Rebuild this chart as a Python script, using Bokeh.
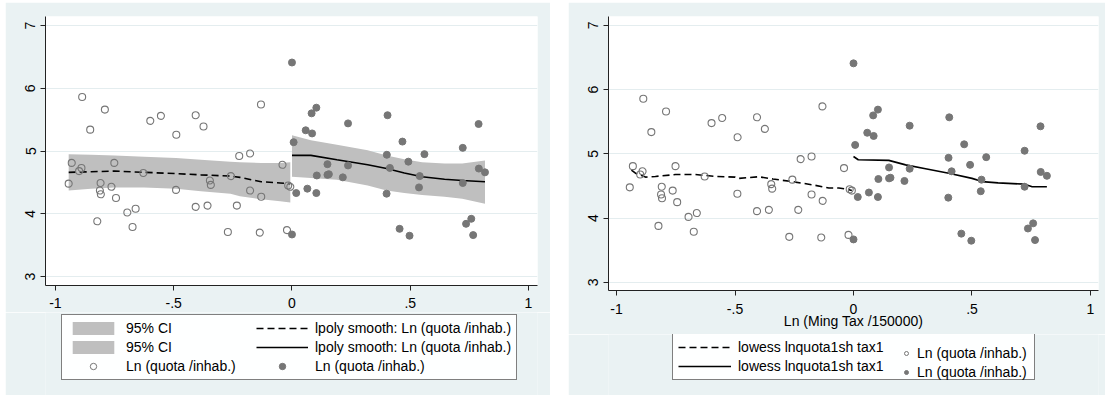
from bokeh.plotting import figure
from bokeh.models import Legend, LegendItem, FixedTicker, CustomJSTickFormatter, Spacer
from bokeh.layouts import row, column
from bokeh.embed import file_html
from bokeh.resources import INLINE

# ---------------- data ----------------
hollow_x = [-0.944, -0.931, -0.887, -0.900, -0.890, -0.853, -0.791, -0.809, -0.812, -0.808,
            -0.823, -0.751, -0.763, -0.744, -0.696, -0.661, -0.674, -0.628, -0.599, -0.554,
            -0.489, -0.490, -0.407, -0.374, -0.407, -0.357, -0.347, -0.343, -0.271, -0.258,
            -0.233, -0.223, -0.177, -0.177, -0.131, -0.130, -0.136, -0.040, -0.016, -0.007,
            -0.021]
hollow_y = [4.48, 4.81, 5.86, 4.68, 4.73, 5.34, 5.66, 4.49, 4.37, 4.31,
            3.88, 4.81, 4.43, 4.25, 4.02, 4.08, 3.79, 4.65, 5.48, 5.56,
            5.26, 4.38, 5.57, 5.39, 4.11, 4.13, 4.53, 4.46, 3.71, 4.60,
            4.13, 4.92, 4.96, 4.37, 5.74, 4.27, 3.70, 4.78, 4.45, 4.43,
            3.74]

filled_x = [0.000, 0.007, 0.000, 0.018, 0.058, 0.065, 0.083, 0.085, 0.103, 0.105,
            0.103, 0.150, 0.150, 0.156, 0.215, 0.237, 0.237, 0.404, 0.401, 0.414,
            0.400, 0.455, 0.467, 0.492, 0.497, 0.560, 0.540, 0.537, 0.722, 0.722,
            0.736, 0.758, 0.766, 0.789, 0.790, 0.816]
filled_y = [6.41, 5.14, 3.67, 4.33, 5.33, 4.40, 5.60, 5.28, 5.69, 4.61,
            4.33, 4.79, 4.62, 4.63, 4.58, 5.44, 4.77, 5.57, 4.94, 4.73,
            4.32, 3.76, 5.15, 4.83, 3.65, 4.95, 4.60, 4.42, 5.05, 4.49,
            3.84, 3.92, 3.66, 5.43, 4.72, 4.66]

# lpoly smooth + 95% CI (left panel)
lp0_x = [-0.944, -0.85, -0.75, -0.625, -0.49, -0.385, -0.26, -0.22, -0.13, -0.05, -0.007]
lp0_y = [4.66, 4.67, 4.68, 4.66, 4.64, 4.62, 4.60, 4.58, 4.51, 4.49, 4.48]
lp0_lo = [4.37, 4.40, 4.42, 4.42, 4.40, 4.36, 4.32, 4.28, 4.23, 4.20, 4.18]
lp0_hi = [4.95, 4.94, 4.93, 4.91, 4.89, 4.86, 4.83, 4.82, 4.81, 4.81, 4.82]

lp1_x = [0.0, 0.08, 0.19, 0.32, 0.40, 0.475, 0.55, 0.645, 0.72, 0.816]
lp1_y = [4.93, 4.93, 4.86, 4.78, 4.72, 4.65, 4.59, 4.55, 4.53, 4.51]
lp1_lo = [4.59, 4.57, 4.54, 4.45, 4.37, 4.33, 4.30, 4.27, 4.24, 4.16]
lp1_hi = [5.25, 5.17, 5.10, 5.01, 4.93, 4.87, 4.82, 4.80, 4.80, 4.85]

# lowess (right panel)
lw0_x = [-0.937, -0.92, -0.878, -0.836, -0.751, -0.667, -0.582, -0.50, -0.484, -0.40,
         -0.34, -0.259, -0.174, -0.132, -0.104, -0.062, -0.027, -0.007]
lw0_y = [4.75, 4.70, 4.64, 4.65, 4.68, 4.68, 4.65, 4.64, 4.62, 4.645,
         4.61, 4.57, 4.52, 4.49, 4.47, 4.47, 4.45, 4.43]
lw1_x = [0.0, 0.02, 0.149, 0.22, 0.304, 0.402, 0.50, 0.543, 0.61, 0.722, 0.754, 0.816]
lw1_y = [4.96, 4.91, 4.90, 4.83, 4.77, 4.70, 4.62, 4.57, 4.55, 4.53, 4.49, 4.49]

x_ticks = [-1, -0.5, 0, 0.5, 1]
y_ticks = [3, 4, 5, 6, 7]
label_ci = "95% CI"
label_lpoly = "lpoly smooth: Ln (quota /inhab.)"
label_lowess = "lowess lnquota1sh tax1"
label_pts = "Ln (quota /inhab.)"
x_title_right = "Ln (Ming Tax /150000)"

# ---------------- style ----------------
BG = "#eaf2f3"
GRID = "#e4edef"
FONT = "Liberation Sans"
FS = "14px"
PT = "#767676"
BAND = "#bfbfbf"
AX = "#222222"
DASH = "7 4"
LW = 1.6

# off-screen sample used only so that legend swatches get drawn
OFF_X = [5.0, 6.0]
OFF_Y = [5.0, 5.0]


def make_fig(width, height, xr, yr, bl, br, bt, bb, xl_standoff):
    p = figure(width=width, height=height, x_range=xr, y_range=yr,
               output_backend="svg", toolbar_location=None,
               min_border_left=bl, min_border_right=br,
               min_border_top=bt, min_border_bottom=bb,
               background_fill_color="white", border_fill_color=BG,
               outline_line_color=None)
    p.xaxis.ticker = FixedTicker(ticks=x_ticks)
    p.xaxis.formatter = CustomJSTickFormatter(
        code="return tick.toString().replace(/^(-?)0\\./, '$1.');")
    p.yaxis.ticker = FixedTicker(ticks=y_ticks)
    p.yaxis.major_label_orientation = "parallel"
    for ax in (p.xaxis, p.yaxis):
        ax.axis_line_color = AX
        ax.major_tick_line_color = AX
        ax.major_tick_out = 5
        ax.major_tick_in = 0
        ax.minor_tick_line_color = None
        ax.major_label_text_font = FONT
        ax.major_label_text_font_size = FS
        ax.major_label_text_color = "black"
    p.xaxis.major_label_standoff = xl_standoff
    p.yaxis.major_label_standoff = 5
    p.xgrid.grid_line_color = None
    p.ygrid.grid_line_color = GRID
    p.ygrid.grid_line_width = 1
    return p


def legend_fig(width, height):
    q = figure(width=width, height=height, x_range=(0, 1), y_range=(0, 1),
               output_backend="svg", toolbar_location=None,
               x_axis_location=None, y_axis_location=None,
               min_border=0, background_fill_color=BG, border_fill_color=BG,
               outline_line_color=None)
    q.grid.visible = False
    return q


def legend_common(leg):
    leg.label_text_font = FONT
    leg.label_text_font_size = FS
    leg.label_text_color = "black"
    leg.glyph_height = 16
    leg.label_height = 16
    leg.spacing = 3
    leg.padding = 5
    leg.margin = 0


# ---------------- left panel ----------------
p1 = make_fig(545, 310, (-1.042, 1.038), (2.857, 7.143), 40, 13, 14, 27, 7)
p1.varea(x=lp0_x, y1=lp0_lo, y2=lp0_hi, fill_color=BAND)
p1.line(x=lp0_x, y=lp0_y, line_color="black", line_width=LW, line_dash=DASH)
p1.varea(x=lp1_x, y1=lp1_lo, y2=lp1_hi, fill_color=BAND)
p1.line(x=lp1_x, y=lp1_y, line_color="black", line_width=LW)
p1.scatter(x=hollow_x, y=hollow_y, size=7, marker="circle",
           fill_color=None, line_color=PT, line_width=1.1)
p1.scatter(x=filled_x, y=filled_y, size=7, marker="circle",
           fill_color=PT, line_color=PT)

# legend strip (its frame is aligned with p1's frame: left edge at x=45)
l1 = legend_fig(545, 83)
d_ci0 = l1.varea(x=OFF_X, y1=OFF_Y, y2=OFF_Y, fill_color=BAND)
d_ci1 = l1.varea(x=OFF_X, y1=OFF_Y, y2=OFF_Y, fill_color=BAND)
d_ln0 = l1.line(x=OFF_X, y=OFF_Y, line_color="black", line_width=LW, line_dash=DASH)
d_ln1 = l1.line(x=OFF_X, y=OFF_Y, line_color="black", line_width=LW)
d_h1 = l1.scatter(x=OFF_X, y=OFF_Y, size=5.5, marker="circle", fill_color=None,
                  line_color=PT, line_width=1)
d_f1 = l1.scatter(x=OFF_X, y=OFF_Y, size=5.5, marker="circle", fill_color=PT, line_color=PT)

leg1 = Legend(items=[
    LegendItem(label=label_ci, renderers=[d_ci0]),
    LegendItem(label=label_ci, renderers=[d_ci1]),
    LegendItem(label=label_pts, renderers=[d_h1]),
    LegendItem(label=label_lpoly, renderers=[d_ln0]),
    LegendItem(label=label_lpoly, renderers=[d_ln1]),
    LegendItem(label=label_pts, renderers=[d_f1]),
], ncols=2, location=(16, 15))
legend_common(leg1)
leg1.glyph_width = 52
leg1.label_standoff = 7
leg1.label_width = 127
leg1.border_line_color = "black"
leg1.border_line_width = 1
leg1.background_fill_color = "white"
l1.add_layout(leg1, "center")

# ---------------- right panel ----------------
p2 = make_fig(537, 332, (-1.0338, 1.0338), (2.875, 7.139), 40, 7, 14, 44, 8)
p2.xaxis.axis_label = x_title_right
p2.xaxis.axis_label_text_font = FONT
p2.xaxis.axis_label_text_font_size = FS
p2.xaxis.axis_label_text_font_style = "normal"
p2.xaxis.axis_label_text_color = "black"
p2.xaxis.axis_label_standoff = -4

p2.line(x=lw0_x, y=lw0_y, line_color="black", line_width=LW, line_dash=DASH)
p2.line(x=lw1_x, y=lw1_y, line_color="black", line_width=LW)
p2.scatter(x=hollow_x, y=hollow_y, size=7, marker="circle",
           fill_color=None, line_color=PT, line_width=1.1)
p2.scatter(x=filled_x, y=filled_y, size=7, marker="circle",
           fill_color=PT, line_color=PT)

# legend strip (frame aligned with p2's frame: left edge at x=608)
l2 = legend_fig(537, 61)
e_lw0 = l2.line(x=OFF_X, y=OFF_Y, line_color="black", line_width=LW, line_dash=DASH)
e_lw1 = l2.line(x=OFF_X, y=OFF_Y, line_color="black", line_width=LW)
e_h2 = l2.scatter(x=OFF_X, y=OFF_Y, size=5.5, marker="circle", fill_color=None,
                  line_color=PT, line_width=1)
e_f2 = l2.scatter(x=OFF_X, y=OFF_Y, size=5.5, marker="circle", fill_color=PT, line_color=PT)

leg2a = Legend(items=[
    LegendItem(label=label_lowess, renderers=[e_lw0]),
    LegendItem(label=label_lowess, renderers=[e_lw1]),
], location=(64, 15))
legend_common(leg2a)
leg2a.glyph_width = 53
leg2a.label_standoff = 7
leg2a.label_width = 291
leg2a.border_line_color = "black"
leg2a.border_line_width = 1
leg2a.background_fill_color = "white"
l2.add_layout(leg2a, "center")

leg2b = Legend(items=[
    LegendItem(label=label_pts, renderers=[e_h2]),
    LegendItem(label=label_pts, renderers=[e_f2]),
], location=(293, 15))
legend_common(leg2b)
leg2b.glyph_width = 10
leg2b.label_standoff = 6
leg2b.border_line_color = None
leg2b.background_fill_alpha = 0
l2.add_layout(leg2b, "center")

layout = column(
    Spacer(width=1105, height=2),
    row(Spacer(width=5, height=393), column(p1, l1), Spacer(width=18, height=393),
        column(p2, l2)),
)
open("out.html", "w").write(file_html(layout, INLINE))
